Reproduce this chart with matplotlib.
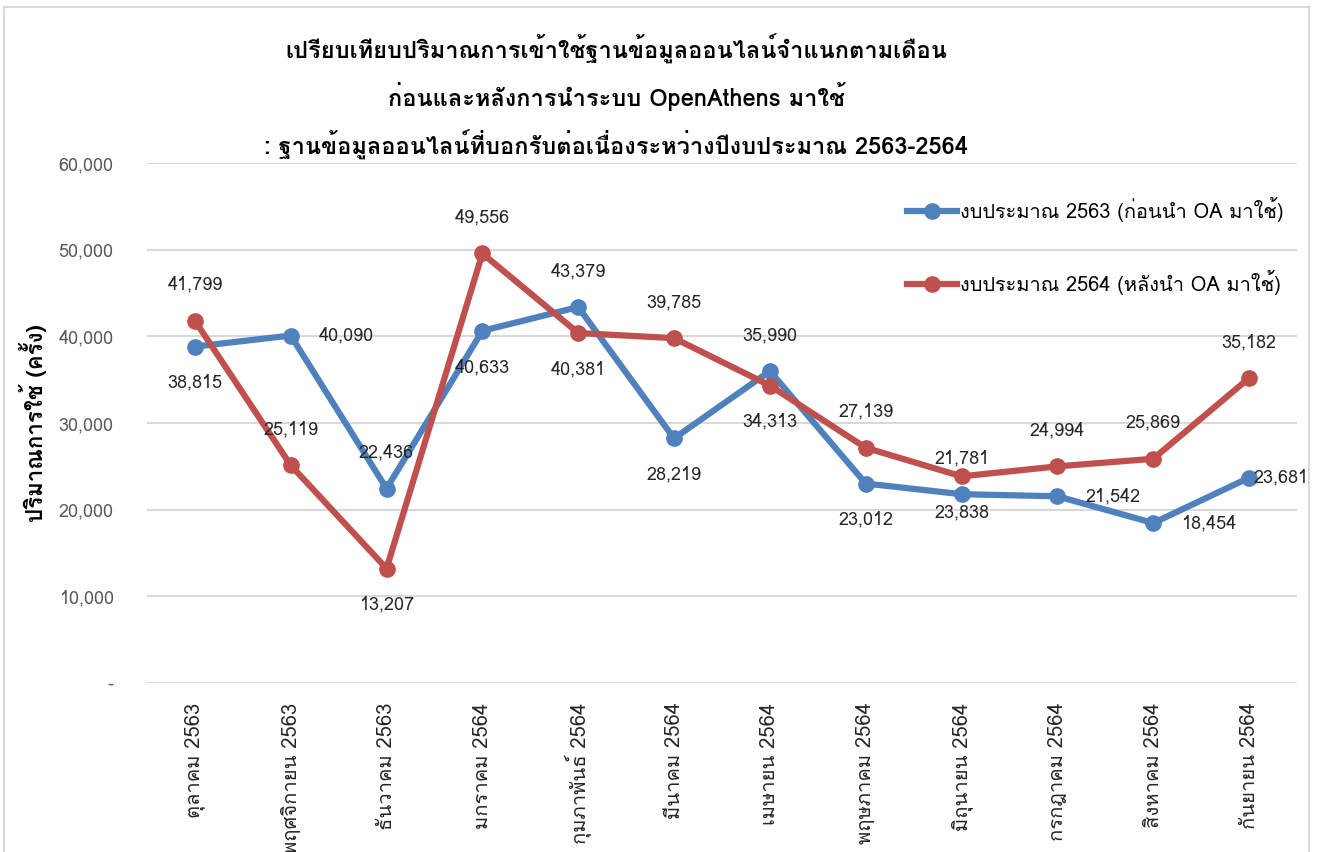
import numpy as np
import matplotlib
matplotlib.use("Agg")
import matplotlib.pyplot as plt
import matplotlib.ticker as ticker
from matplotlib import font_manager
from matplotlib.ft2font import FT2Font
from matplotlib.lines import Line2D

MONTHS = ["ตุลาคม 2563", "พฤศจิกายน 2563", "ธันวาคม 2563", "มกราคม 2564",
          "กุมภาพันธ์ 2564", "มีนาคม 2564", "เมษายน 2564", "พฤษภาคม 2564",
          "มิถุนายน 2564", "กรกฎาคม 2564", "สิงหาคม 2564", "กันยายน 2564"]
FY2563 = [38815, 40090, 22436, 40633, 43379, 28219, 35990, 23012, 21781, 21542, 18454, 23681]
FY2564 = [41799, 25119, 13207, 49556, 40381, 39785, 34313, 27139, 23838, 24994, 25869, 35182]
LABEL_2563 = "งบประมาณ 2563 (ก่อนนำ OA มาใช้)"
LABEL_2564 = "งบประมาณ 2564 (หลังนำ OA มาใช้)"
TITLE = ("เปรียบเทียบปริมาณการเข้าใช้ฐานข้อมูลออนไลน์จำแนกตามเดือน\n"
         "ก่อนและหลังการนำระบบ OpenAthens มาใช้\n"
         ": ฐานข้อมูลออนไลน์ที่บอกรับต่อเนื่องระหว่างปีงบประมาณ 2563-2564")
YLABEL = "ปริมาณการใช้ (ครั้ง)"

# where each data label sits relative to its point
POS_2563 = ["below", "right", "above", "below", "above", "below",
            "above", "below", "above", "right", "right", "near_right"]
POS_2564 = ["above", "above", "below", "above", "below", "above",
            "below", "above", "below", "above", "above", "above"]
OFFSETS = {"above": (0, 26), "below": (0, -26), "right": (40, 0), "near_right": (23, 0)}

BLUE = "#4F81BD"
RED = "#C0504D"


def find_thai_font():
    seen = set()
    for f in font_manager.fontManager.ttflist:
        if f.name in seen:
            continue
        try:
            cmap = FT2Font(f.fname).get_charmap()
        except Exception:
            continue
        if 0x0E01 in cmap and 0x0E32 in cmap:
            return f.name
        seen.add(f.name)
    return None


thai = find_thai_font()
fams = [thai, "DejaVu Sans"] if thai else ["DejaVu Sans"]
plt.rcParams["font.family"] = fams

fig = plt.figure(figsize=(13.17, 8.52), dpi=100)
ax = fig.add_axes([0.1116, 0.1984, 0.8732, 0.6103])

x = np.arange(len(MONTHS))
ax.plot(x, FY2563, color=BLUE, lw=4.5, marker="o", ms=11, zorder=3)
ax.plot(x, FY2564, color=RED, lw=4.5, marker="o", ms=11, zorder=3)

for vals, poss in ((FY2563, POS_2563), (FY2564, POS_2564)):
    for i, (v, p) in enumerate(zip(vals, poss)):
        dx, dy = OFFSETS[p]
        ax.annotate(f"{v:,}", (i, v), xytext=(dx, dy), textcoords="offset points",
                    ha="center", va="center", fontsize=13, color="#262626", zorder=4)

ax.set_xlim(-0.5, len(MONTHS) - 0.5)
ax.set_ylim(0, 60000)
ax.yaxis.set_major_locator(ticker.MultipleLocator(10000))
ax.yaxis.set_major_formatter(ticker.FuncFormatter(lambda v, _: "-" if v == 0 else f"{int(v):,}"))
ax.set_xticks(x)
ax.set_xticklabels(MONTHS, rotation=90, fontsize=14.5, color="#262626", va="top")
ax.tick_params(axis="y", labelsize=13, labelcolor="#595959", length=0, pad=24)
ax.tick_params(axis="x", length=0, pad=14)
ax.grid(axis="y", color="#D9D9D9", lw=1.5)
ax.set_axisbelow(True)
for s in ax.spines.values():
    s.set_visible(False)
ax.set_ylabel(YLABEL, fontsize=16, fontweight="bold", labelpad=8)

fig.text(0.468, 0.886, TITLE, ha="center", va="center", fontsize=17,
         fontweight="bold", linespacing=1.75, color="#000000")

handles = [Line2D([], [], color=BLUE, lw=4.5, marker="o", ms=11),
           Line2D([], [], color=RED, lw=4.5, marker="o", ms=11)]
ax.legend(handles, [LABEL_2563, LABEL_2564], loc="upper right",
          bbox_to_anchor=(1.004, 0.97), frameon=False, fontsize=14.4,
          labelspacing=2.4, handlelength=2.5, handletextpad=0.15)

# thin chart frame
for xs, ys in (([0.003, 0.003], [0, 0.992]), ([0.003, 0.994], [0.992, 0.992]),
               ([0.994, 0.994], [0, 0.992])):
    fig.add_artist(Line2D(xs, ys, color="#D9D9D9", lw=1.5, transform=fig.transFigure))

fig.savefig("out.png", dpi=100)
